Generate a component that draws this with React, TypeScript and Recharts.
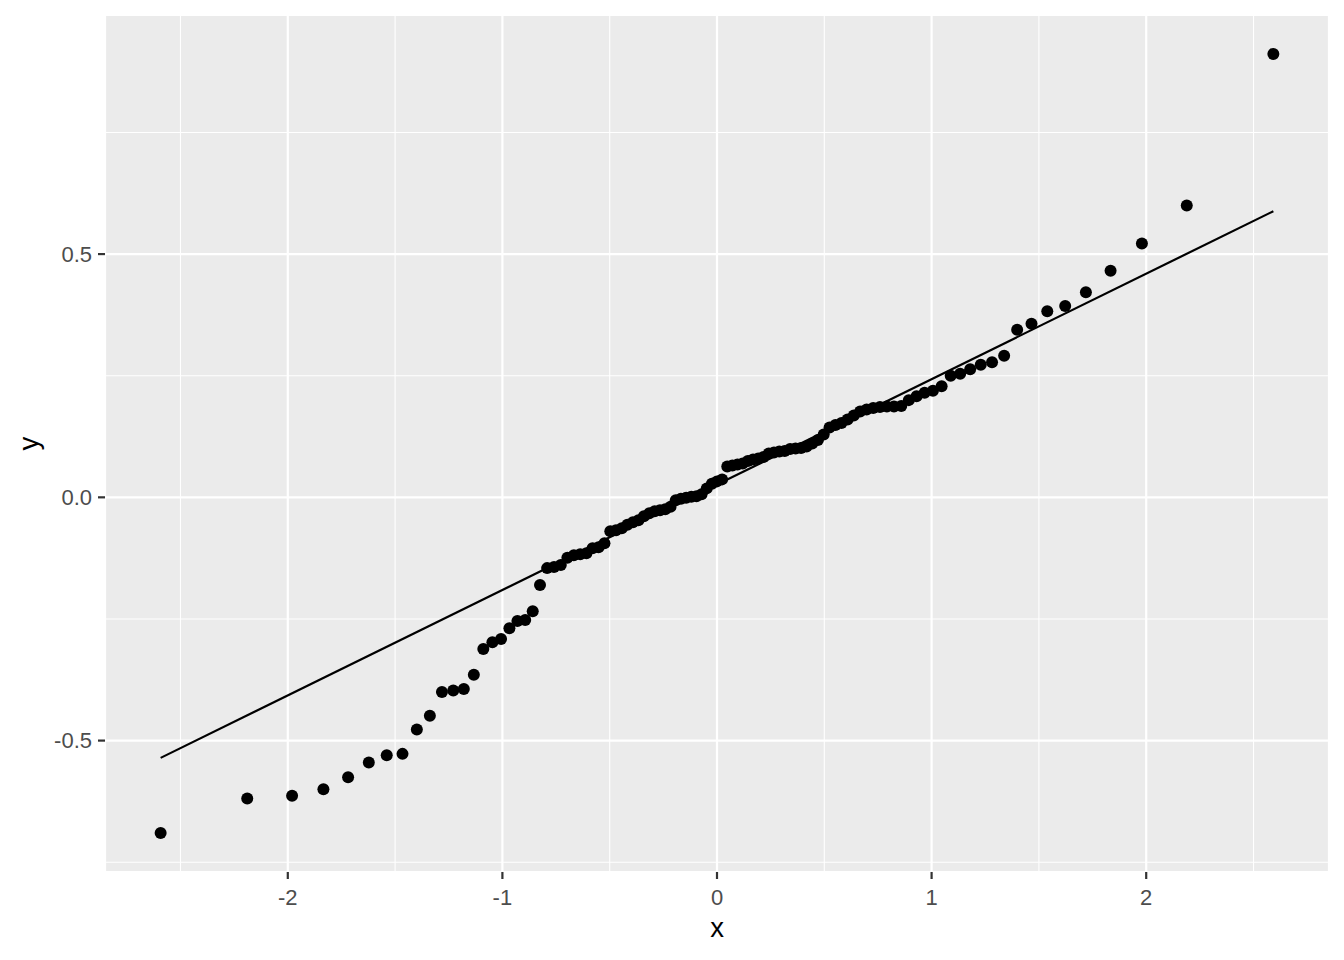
import {
  ScatterChart,
  Scatter,
  XAxis,
  YAxis,
  CartesianGrid,
  ReferenceLine,
  Label,
} from 'recharts';

const FONT = '"Liberation Sans", Arial, Helvetica, sans-serif';

// theoretical quantiles (n = 105)
const theoretical = [
  -2.5925, -2.189, -1.98, -1.834, -1.719, -1.6225, -1.539, -1.4655, -1.3987, -1.338,
  -1.2816, -1.229, -1.1798, -1.1331, -1.0889, -1.0467, -1.0063, -0.9674, -0.93, -0.8937,
  -0.8587, -0.8248, -0.7916, -0.7594, -0.7279, -0.6972, -0.667, -0.6374, -0.6085, -0.58,
  -0.552, -0.5244, -0.4972, -0.4704, -0.4438, -0.4177, -0.3917, -0.3661, -0.3407, -0.3154,
  -0.2904, -0.2655, -0.2411, -0.2166, -0.1923, -0.168, -0.1438, -0.1197, -0.0956, -0.0717,
  -0.0478, -0.0239, 0,
  0.0239, 0.0478, 0.0717, 0.0956, 0.1197, 0.1438, 0.168, 0.1923, 0.2166, 0.2411,
  0.2655, 0.2904, 0.3154, 0.3407, 0.3661, 0.3917, 0.4177, 0.4438, 0.4704, 0.4972,
  0.5244, 0.552, 0.58, 0.6085, 0.6374, 0.667, 0.6972, 0.7279, 0.7594, 0.7916,
  0.8248, 0.8587, 0.8937, 0.93, 0.9674, 1.0063, 1.0467, 1.0889, 1.1331, 1.1798,
  1.229, 1.2816, 1.338, 1.3987, 1.4655, 1.539, 1.6225, 1.719, 1.834, 1.98,
  2.189, 2.5925,
];

// sample quantiles
const sample = [
  -0.69, -0.6189, -0.6133, -0.5998, -0.5752, -0.5451, -0.5301, -0.5273, -0.477, -0.4488,
  -0.4002, -0.3969, -0.3941, -0.3648, -0.3115, -0.2978, -0.291, -0.2691, -0.254, -0.252,
  -0.2342, -0.1803, -0.1455, -0.1434, -0.1393, -0.124, -0.1189, -0.1168, -0.1148, -0.1045,
  -0.1025, -0.0943, -0.0697, -0.0676, -0.0635, -0.0564, -0.0512, -0.0471, -0.0389, -0.0328,
  -0.0287, -0.0266, -0.0246, -0.0195, -0.0061, -0.0031, -0.001, 0.001, 0.002, 0.0061,
  0.0184, 0.0277, 0.0328, 0.0369, 0.0635, 0.0656, 0.0676, 0.0697, 0.0748, 0.0779,
  0.0799, 0.083, 0.0902, 0.0922, 0.0943, 0.0953, 0.0994, 0.1004, 0.1014, 0.1045,
  0.1107, 0.1178, 0.1291, 0.1434, 0.1486, 0.1527, 0.1598, 0.168, 0.1762, 0.1803,
  0.1834, 0.1855, 0.1865, 0.1865, 0.1875, 0.1998, 0.208, 0.2152, 0.2193, 0.2285,
  0.25, 0.2541, 0.2633, 0.2725, 0.2777, 0.291, 0.3443, 0.3566, 0.3826, 0.3934,
  0.4215, 0.4658, 0.5219, 0.5998, 0.9113,
];

// qq line end points
const lineX = [-2.5925, 2.5925];
const lineY = [-0.5355, 0.5881];

const xTicks = [-2, -1, 0, 1, 2];
const xMinorTicks = [-2.5, -1.5, -0.5, 0.5, 1.5, 2.5];
const yTicks = [-0.5, 0, 0.5];
const yMinorTicks = [-0.75, -0.25, 0.25, 0.75];

const xDomain = [-2.8518, 2.8518];
const yDomain = [-0.7701, 0.9914];

const points = theoretical.map((x, i) => ({ x, y: sample[i] }));

const TICK_STYLE = { fill: '#4D4D4D', fontSize: 22, fontFamily: FONT };
const TICK_LINE = { stroke: '#333333', strokeWidth: 2.2 };

export default function App() {
  return (
    <div style={{ position: 'absolute', left: 0, top: 0, width: 1344, height: 960, background: '#fff' }}>
      <ScatterChart width={1344} height={960} margin={{ top: 15, right: 15, left: 0, bottom: 0 }}>
        <CartesianGrid
          xAxisId="minor"
          yAxisId="minor"
          fill="#EBEBEB"
          fillOpacity={1}
          stroke="#FFFFFF"
          strokeWidth={1.1}
        />
        <CartesianGrid xAxisId={0} yAxisId={0} stroke="#FFFFFF" strokeWidth={2.2} />
        <XAxis
          xAxisId={0}
          type="number"
          dataKey="x"
          domain={xDomain}
          ticks={xTicks}
          interval={0}
          allowDataOverflow
          height={88}
          tick={TICK_STYLE}
          tickLine={TICK_LINE}
          tickSize={7}
          tickMargin={10}
          axisLine={false}
        >
          <Label
            content={({ viewBox }: any) => (
              <text
                x={viewBox.x + viewBox.width / 2}
                y={viewBox.y + 65}
                textAnchor="middle"
                fontSize={27.5}
                fontFamily={FONT}
                fill="#000"
              >
                x
              </text>
            )}
          />
        </XAxis>
        <YAxis
          yAxisId={0}
          type="number"
          dataKey="y"
          domain={yDomain}
          ticks={yTicks}
          interval={0}
          allowDataOverflow
          width={105}
          tick={TICK_STYLE}
          tickLine={TICK_LINE}
          tickSize={7}
          tickMargin={6}
          tickFormatter={(v: number) => v.toFixed(1)}
          axisLine={false}
        >
          <Label
            content={({ viewBox }: any) => {
              const cx = 38;
              const cy = viewBox.y + viewBox.height / 2;
              return (
                <text
                  x={cx}
                  y={cy}
                  textAnchor="middle"
                  fontSize={27.5}
                  fontFamily={FONT}
                  fill="#000"
                  transform={`rotate(-90, ${cx}, ${cy})`}
                >
                  y
                </text>
              );
            }}
          />
        </YAxis>
        <XAxis xAxisId="minor" type="number" dataKey="x" domain={xDomain} ticks={xMinorTicks} interval={0} allowDataOverflow hide />
        <YAxis yAxisId="minor" type="number" dataKey="y" domain={yDomain} ticks={yMinorTicks} interval={0} allowDataOverflow hide />
        <ReferenceLine
          xAxisId={0}
          yAxisId={0}
          segment={[
            { x: lineX[0], y: lineY[0] },
            { x: lineX[1], y: lineY[1] },
          ]}
          stroke="#000"
          strokeWidth={2.2}
        />
        <Scatter
          xAxisId={0}
          yAxisId={0}
          data={points}
          isAnimationActive={false}
          shape={(p: any) => <circle cx={p.cx} cy={p.cy} r={6} fill="#000" />}
        />
      </ScatterChart>
    </div>
  );
}
